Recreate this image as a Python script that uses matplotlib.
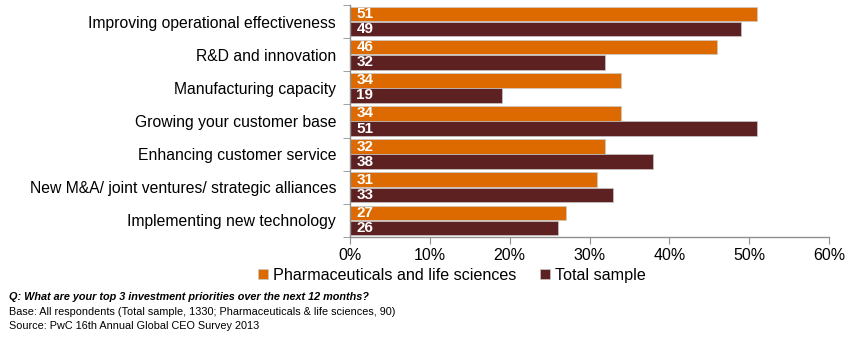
import numpy as np
import matplotlib.pyplot as plt

plt.rcParams['font.family'] = ['Liberation Sans', 'DejaVu Sans']

categories = [
    'Improving operational effectiveness',
    'R&D and innovation',
    'Manufacturing capacity',
    'Growing your customer base',
    'Enhancing customer service',
    'New M&A/ joint ventures/ strategic alliances',
    'Implementing new technology',
]
pharma = [51, 46, 34, 34, 32, 31, 27]
total = [49, 32, 19, 51, 38, 33, 26]
series_names = ['Pharmaceuticals and life sciences', 'Total sample']
orange = '#DD6A00'
maroon = '#5E2121'

fig = plt.figure(figsize=(8.49, 3.51), dpi=100)
ax = fig.add_axes([0.4123, 0.3248, 0.5641, 0.661])

y = np.arange(len(categories))
h = 0.44
b1 = ax.barh(y - h / 2 - 0.01, pharma, height=h, color=orange, edgecolor='#c8c8c8',
             linewidth=0.5, label=series_names[0])
b2 = ax.barh(y + h / 2 + 0.01, total, height=h, color=maroon, edgecolor='#c8c8c8',
             linewidth=0.5, label=series_names[1])

for i in range(len(categories)):
    ax.text(0.8, y[i] - h / 2 - 0.01, str(pharma[i]), color='white', fontweight='bold',
            fontsize=11, va='center', ha='left')
    ax.text(0.8, y[i] + h / 2 + 0.01, str(total[i]), color='white', fontweight='bold',
            fontsize=11, va='center', ha='left')

ax.set_xlim(0, 60)
ax.set_ylim(len(categories) - 0.5, -0.5)
ax.set_xticks(np.arange(0, 61, 10))
ax.set_xticklabels([f'{v}%' for v in range(0, 61, 10)], fontsize=11.5)
ax.set_yticks(y)
ax.set_yticklabels(categories, fontsize=11.3)
ax.tick_params(axis='y', length=0, pad=10)
ax.set_yticks(np.arange(-0.5, len(categories), 1), minor=True)
ax.tick_params(axis='y', which='minor', length=5, color='#909090', left=True)
ax.tick_params(axis='x', length=5, color='#909090', direction='out', pad=3)

for s in ['top', 'right']:
    ax.spines[s].set_visible(False)
for s in ['left', 'bottom']:
    ax.spines[s].set_color('#909090')
    ax.spines[s].set_linewidth(1)

fig.legend(handles=[b1, b2], labels=series_names, loc='center', ncol=2,
           bbox_to_anchor=(0.532, 0.215), frameon=False, fontsize=11.6,
           handlelength=0.6, handleheight=0.6, handletextpad=0.3, columnspacing=1.5)

fig.text(0.011, 0.153, 'Q: What are your top 3 investment priorities over the next 12 months?',
         fontsize=7.8, fontweight='bold', fontstyle='italic', va='center')
fig.text(0.011, 0.11, 'Base: All respondents (Total sample, 1330; Pharmaceuticals & life sciences, 90)',
         fontsize=7.8, va='center')
fig.text(0.011, 0.07, 'Source: PwC 16th Annual Global CEO Survey 2013',
         fontsize=7.8, va='center')

fig.savefig('out.png', dpi=100)
